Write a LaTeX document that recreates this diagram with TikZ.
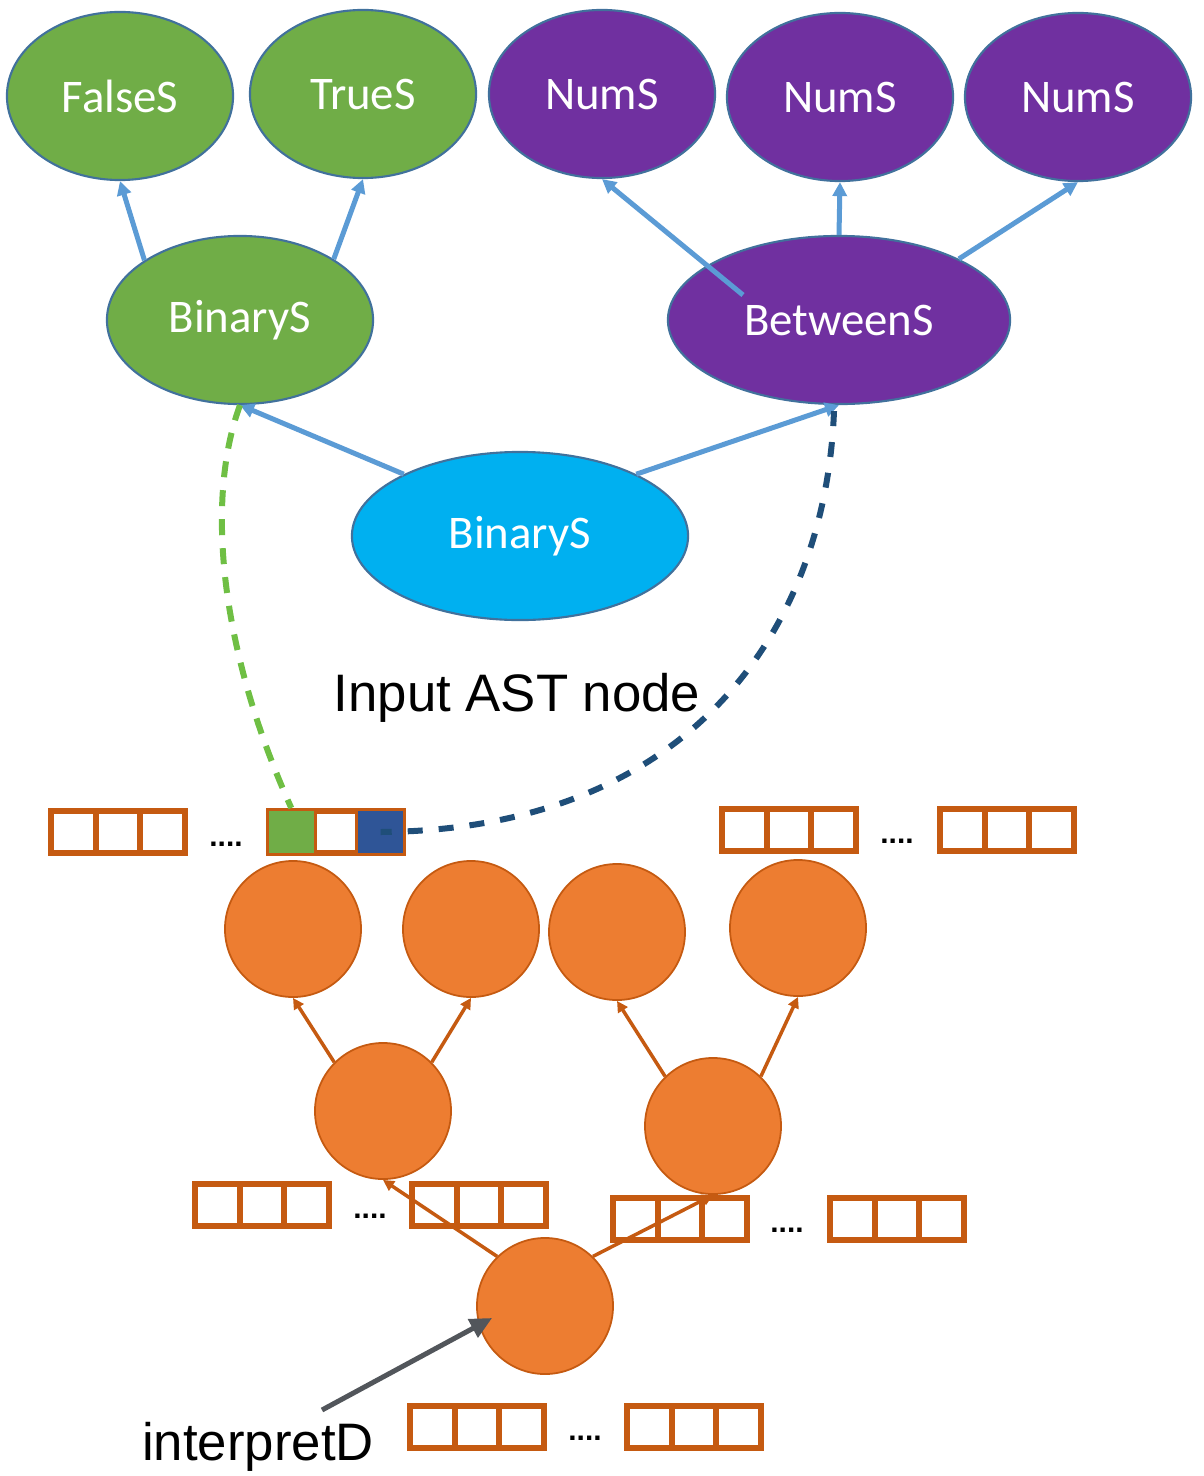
\documentclass[tikz,border=0pt]{standalone}
\usepackage{fontspec}
\usepackage{xcolor}
\usepackage{tikz}
\usetikzlibrary{positioning, arrows.meta, calc, shapes.geometric}
\setmainfont{Liberation Sans}
\newfontfamily\calib{Carlito}

\definecolor{astgreen}{HTML}{70AD47}
\definecolor{astpurple}{HTML}{7030A0}
\definecolor{astcyan}{HTML}{00B0F0}
\definecolor{astrim}{HTML}{41719C}
\definecolor{linkblue}{HTML}{5B9BD5}
\definecolor{netorange}{HTML}{ED7D31}
\definecolor{netrim}{HTML}{C55A11}
\definecolor{dashgreen}{HTML}{6FBF44}
\definecolor{dashblue}{HTML}{1F4E79}
\definecolor{cellblue}{HTML}{2F5597}
\definecolor{pointgray}{HTML}{52565B}

\begin{document}
\begin{tikzpicture}[
    x=0.01cm, y=-0.01cm,
    ast/.style={ellipse, draw=astrim, line width=0.6pt, inner sep=0pt,
        minimum width=2.26cm, minimum height=1.68cm, text=white,
        font=\calib\fontsize{13.3}{16}\selectfont},
    unit/.style={circle, draw=netrim, fill=netorange, line width=0.5pt,
        minimum size=1.36cm, inner sep=0pt},
    cell/.style={rectangle, draw=netrim, line width=0.06cm, inner sep=0pt,
        minimum width=0.447cm, minimum height=0.42cm},
    link/.style={draw=linkblue, line width=0.05cm,
        -{Triangle[length=0.14cm, width=0.14cm]}},
    feed/.style={draw=netrim, line width=0.035cm,
        -{Triangle[length=0.11cm, width=0.11cm]}},
    dots/.style={anchor=base, inner sep=0pt, font=\fontsize{8.5}{8.5}\selectfont\bfseries},
    label/.style={anchor=base, inner sep=0pt, font=\fontsize{15}{18}\selectfont}
]
\useasboundingbox (0,0) rectangle (1203,1476);

% AST tree
\node[ast, fill=astgreen] (falseS) at (120,96) {FalseS};
\node[ast, fill=astgreen] (trueS) at (363,94) {TrueS};
\node[ast, fill=astpurple] (num1) at (602,94) {NumS};
\node[ast, fill=astpurple] (num2) at (840,97) {NumS};
\node[ast, fill=astpurple] (num3) at (1078,97) {NumS};
\node[ast, fill=astgreen, minimum width=2.66cm] (binL) at (240,320) {BinaryS};
\node[ast, fill=astpurple, minimum width=3.42cm] (betw) at (839,320) {BetweenS};
\node[ast, fill=astcyan, minimum width=3.36cm] (root) at (520,536) {BinaryS};

\draw[link] (binL.148) -- (falseS.south);
\draw[link] (binL.33) -- (trueS.south);
\draw[link] ($(betw.center)+(-96,-25)$) -- (num1.south);
\draw[link] (betw.north) -- (num2.south);
\draw[link] (betw.27) -- (num3.south);
\draw[link] (root.152) -- (binL.south);
\draw[link] (root.28) -- (betw.south);

\node[label] (inlbl) at (517,711) {Input AST node};

% arrays of cells
\foreach \n/\x/\y in {A/48/832, B/266/832, C/719/830, D/937/830,
                      E/192/1205, F/409/1205, G/610/1219, H/827/1219,
                      I/407/1427, J/624/1427}
  \foreach \i in {0,1,2}
    \node[cell] (\n\i) at ({\x+25.3+44.7*\i},\y) {};
\fill[astgreen] ([shift={(3,-3)}]B0.south west) rectangle ([shift={(-3,3)}]B0.north east);
\fill[cellblue] ([shift={(3,-3)}]B2.south west) rectangle ([shift={(-3,3)}]B2.north east);

\node[dots] (d1) at (226,846) {....};
\node[dots] (d2) at (897,843) {....};
\node[dots] (d3) at (370,1218) {....};
\node[dots] (d4) at (787,1232) {....};
\node[dots] (d5) at (585,1440) {....};

% decoder units
\node[unit] (c1) at (293,929) {};
\node[unit] (c2) at (471,929) {};
\node[unit] (c3) at (617,932) {};
\node[unit] (c4) at (798,928) {};
\node[unit] (c5) at (383,1111) {};
\node[unit] (c6) at (713,1126) {};
\node[unit] (c7) at (545,1306) {};

\draw[feed] (c5.135) -- (c1.south);
\draw[feed] (c5.45) -- (c2.south);
\draw[feed] (c6.134) -- (c3.south);
\draw[feed] (c6.46) -- (c4.south);
\draw[feed] (c7.134) -- (c5.south);
\draw[feed] (c7.46) -- (c6.south);

% dashed links from the input node into the cells
\draw[dashgreen, line width=0.06cm, dash pattern=on 0.16cm off 0.13cm]
  (binL.south) .. controls (205,500) and (220,650) .. (B0.north);
\draw[dashblue, line width=0.06cm, dash pattern=on 0.15cm off 0.16cm]
  ($(betw.south)+(-5,6)$) .. controls (825,640) and (680,830) .. (B2.center);

% interpretD
\node[label] (interp) at (258,1460) {interpretD};
\coordinate (ptr) at (322,1410);
\draw[pointgray, line width=0.05cm, -{Triangle[length=0.22cm, width=0.2cm]}]
  (ptr) -- ([xshift=0.15cm]c7.190);
\end{tikzpicture}
\end{document}
